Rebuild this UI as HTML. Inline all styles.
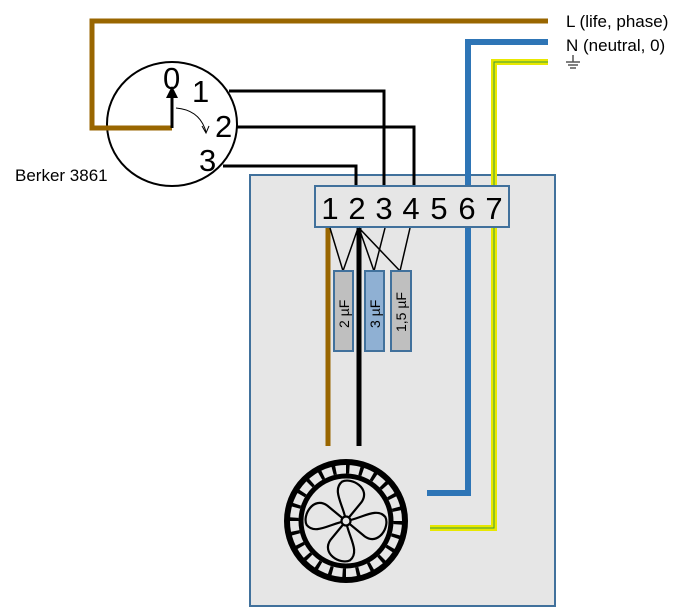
<!DOCTYPE html>
<html><head><style>body{margin:0;background:#fff}svg{display:block}</style></head><body>
<svg width="696" height="608" xmlns="http://www.w3.org/2000/svg" font-family="Liberation Sans, sans-serif">
<rect x="250" y="175" width="305" height="431" fill="#e6e6e6" stroke="#41719c" stroke-width="2"/>
<ellipse cx="172" cy="124" rx="65" ry="62" fill="#fff" stroke="#000" stroke-width="2"/>
<polyline points="548,21 92,21 92,128 172,128" fill="none" stroke="#996600" stroke-width="5"/>
<line x1="172" y1="128" x2="172" y2="96" stroke="#000" stroke-width="3"/>
<polygon points="166,98 178,98 172,86" fill="#000"/>
<path d="M176,108 Q200,110 206,132" fill="none" stroke="#000" stroke-width="1"/>
<polyline points="202,126 206,133 209,126" fill="none" stroke="#000" stroke-width="1"/>
<g font-size="31" fill="#000">
<text x="163" y="89">0</text><text x="192" y="102">1</text><text x="215" y="137">2</text><text x="199" y="171">3</text>
</g>
<text x="15" y="181" font-size="17">Berker 3861</text>
<g fill="none" stroke="#000" stroke-width="3">
<polyline points="229,91 384,91 384,187"/>
<polyline points="237,127 414,127 414,187"/>
<polyline points="223,166 356,166 356,187"/>
</g>
<polyline points="548,42 468,42 468,493 427,493" fill="none" stroke="#2e75b6" stroke-width="6"/>
<polyline points="548,62 494,62 494,528 430,528" fill="none" stroke="#e8e800" stroke-width="6"/>
<polyline points="548,62 494,62 494,528 430,528" fill="none" stroke="#3a9a40" stroke-width="1"/>
<line x1="328" y1="227" x2="328" y2="446" stroke="#996600" stroke-width="5"/>
<line x1="359" y1="227" x2="359" y2="446" stroke="#000" stroke-width="5"/>
<rect x="315" y="186" width="194" height="41" fill="#e6e6e6" stroke="#41719c" stroke-width="2"/>
<g font-size="31" fill="#000" text-anchor="middle">
<text x="330" y="219">1</text><text x="357" y="219">2</text><text x="384" y="219">3</text><text x="411" y="219">4</text><text x="439" y="219">5</text><text x="467" y="219">6</text><text x="494" y="219">7</text>
</g>
<g stroke="#000" stroke-width="1.5" fill="none">
<polyline points="330,228 343,271 358,228"/>
<polyline points="359,228 374,271 385,228"/>
<polyline points="359,228 400,271 410,228"/>
</g>
<rect x="334" y="271" width="19" height="80" fill="#bfbfbf" stroke="#41719c" stroke-width="2"/>
<rect x="365" y="271" width="19" height="80" fill="#8fb0d3" stroke="#41719c" stroke-width="2"/>
<rect x="391" y="271" width="20" height="80" fill="#bfbfbf" stroke="#41719c" stroke-width="2"/>
<g font-size="14" fill="#000">
<text transform="translate(349,328) rotate(-90)">2 µF</text>
<text transform="translate(380,328) rotate(-90)">3 µF</text>
<text transform="translate(406,332) rotate(-90)">1,5 µF</text>
</g>
<circle cx="346" cy="521" r="59" fill="none" stroke="#000" stroke-width="6"/>
<circle cx="346" cy="521" r="45" fill="none" stroke="#000" stroke-width="5"/>
<circle cx="346" cy="521" r="52" fill="none" stroke="#000" stroke-width="9" stroke-dasharray="3.5 10.1"/>
<g fill="none" stroke="#000" stroke-width="2.2" transform="translate(346,521)">
<path d="M0,0 C-6,-14 -22,-26 -14,-37 C-6,-44 16,-38 10,-22 Z" transform="rotate(15)"/>
<path d="M0,0 C-6,-14 -22,-26 -14,-37 C-6,-44 16,-38 10,-22 Z" transform="rotate(105)"/>
<path d="M0,0 C-6,-14 -22,-26 -14,-37 C-6,-44 16,-38 10,-22 Z" transform="rotate(195)"/>
<path d="M0,0 C-6,-14 -22,-26 -14,-37 C-6,-44 16,-38 10,-22 Z" transform="rotate(285)"/>
<circle r="4.5" fill="#e6e6e6"/>
</g>
<text x="566" y="27" font-size="17" fill="#000">L (life, phase)</text>
<text x="566" y="51" font-size="17" fill="#000">N (neutral, 0)</text>
<g stroke="#555" stroke-width="1.5"><line x1="573" y1="55" x2="573" y2="62"/><line x1="566" y1="62" x2="580" y2="62"/><line x1="568" y1="65" x2="578" y2="65"/><line x1="570" y1="68" x2="576" y2="68"/></g>
</svg>
</body></html>
